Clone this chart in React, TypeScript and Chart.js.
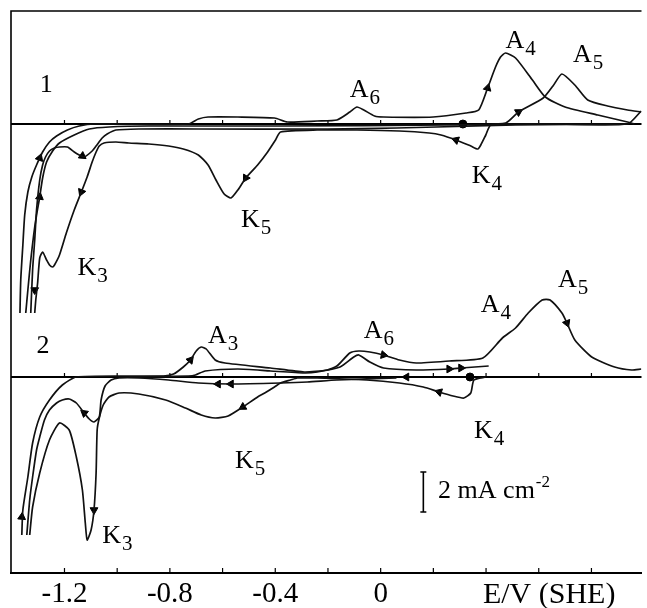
import React, { useEffect, useRef } from 'react';
import { Chart, registerables } from 'chart.js';

Chart.register(...registerables);

// ---- Axis ----
const tickValues = [-1.2, -1.0, -0.8, -0.6, -0.4, -0.2, 0, 0.2, 0.4, 0.6, 0.8];
const tickLabels = ['-1.2', '', '-0.8', '', '-0.4', '', '0', '', '', '', ''];
const axisTitle = 'E/V (SHE)';
const P1_OFFSET = 12.65; // vertical offset of curve 1 (mA cm^-2 units)

// ---- Curve 1 (upper panel): E in V (SHE), i in mA cm^-2 ----
const p1CathAE = [0.989, 0.937, 0.662, 0.512, 0.418, 0.399, 0.380, 0.369, 0.342, 0.286, 0.229, 0.184, 0.071, -0.090, -0.241, -0.380, -0.399, -0.429, -0.467, -0.512, -0.542, -0.568, -0.594, -0.625, -0.655, -0.692, -0.749, -0.805, -0.880, -0.956, -1.005, -1.050, -1.068, -1.080, -1.095, -1.114, -1.136, -1.163, -1.193, -1.219, -1.238, -1.245, -1.257, -1.268, -1.283, -1.294, -1.302, -1.309, -1.313];
const p1CathAI = [0.65, 0, 0, 0, -0.05, -0.55, -1.05, -1.25, -1.1, -0.8, -0.55, -0.45, -0.35, -0.3, -0.3, -0.4, -0.8, -1.4, -2.05, -2.7, -3.3, -3.7, -3.5, -2.8, -2.05, -1.55, -1.25, -1.1, -1.0, -0.95, -0.9, -0.95, -1.1, -1.4, -1.9, -2.65, -3.4, -4.3, -5.45, -6.55, -7.05, -7.15, -7.05, -6.8, -6.4, -6.7, -7.95, -8.8, -9.45];

const p1CathBE = [0.937, 0.512, 0.211, 0.060, -0.203, -0.692, -0.918, -1.005, -1.038, -1.057, -1.080, -1.095, -1.125, -1.144, -1.163, -1.189, -1.219, -1.238, -1.257, -1.272, -1.283, -1.294, -1.306, -1.313, -1.321, -1.328];
const p1CathBI = [0, -0.05, -0.15, -0.2, -0.25, -0.25, -0.25, -0.3, -0.5, -0.7, -1.1, -1.35, -1.65, -1.55, -1.4, -1.15, -1.15, -1.2, -1.35, -1.65, -2.05, -2.8, -4.3, -5.8, -7.3, -9.45];

const p1AnodAE = [-1.369, -1.366, -1.358, -1.351, -1.339, -1.324, -1.306, -1.283, -1.257, -1.230, -1.189, -1.144, -1.087, -0.730, -0.692, -0.655, -0.542, -0.403, -0.354, -0.241, -0.166, -0.117, -0.090, -0.064, -0.023, 0.011, 0.199, 0.324, 0.372, 0.406, 0.436, 0.455, 0.474, 0.512, 0.576, 0.625, 0.700, 0.824, 0.937, 0.963];
const p1AnodAI = [-9.45, -7.8, -6.05, -4.55, -3.4, -2.65, -2.05, -1.4, -0.9, -0.6, -0.3, -0.1, 0, 0, 0.25, 0.35, 0.35, 0.3, 0.1, 0.15, 0.2, 0.6, 0.85, 0.7, 0.4, 0.35, 0.35, 0.55, 0.7, 1.8, 2.85, 3.35, 3.55, 3.3, 2.2, 1.35, 0.85, 0.45, 0.1, 0];

const p1AnodBE = [-1.347, -1.339, -1.328, -1.317, -1.306, -1.294, -1.283, -1.268, -1.245, -1.219, -1.163, -1.106, -1.031, -0.880, -0.380, 0.248, 0.474, 0.523, 0.617, 0.654, 0.688, 0.737, 0.786, 0.861, 0.937, 0.989];
const p1AnodBI = [-9.45, -8.3, -6.8, -5.55, -4.55, -3.65, -2.7, -1.9, -1.35, -0.95, -0.55, -0.25, -0.15, -0.1, -0.1, -0.05, 0.05, 0.6, 1.3, 1.9, 2.5, 1.95, 1.2, 0.9, 0.7, 0.6];

// ---- Curve 2 (lower panel) ----
const p2Cath1E = [0.399, 0.354, 0.342, 0.316, 0.275, 0.222, 0.162, 0.071, -0.053, -0.241, -0.316, -0.342, -0.380, -0.403, -0.440, -0.467, -0.523, -0.579, -0.628, -0.681, -0.741, -0.816, -0.918, -0.993, -1.031, -1.053, -1.068, -1.076, -1.080, -1.088, -1.099, -1.114, -1.121, -1.132, -1.155, -1.182, -1.219, -1.257, -1.294, -1.321, -1.332];
const p2Cath1I = [0, -0.15, -0.8, -1.05, -0.95, -0.75, -0.5, -0.3, -0.15, -0.05, -0.05, -0.15, -0.3, -0.5, -0.8, -1.0, -1.5, -1.95, -2.05, -1.9, -1.55, -1.15, -0.85, -0.8, -1.0, -1.4, -2.05, -2.65, -4.8, -6.65, -7.65, -8.15, -7.3, -5.65, -4.0, -2.65, -2.3, -3.15, -4.8, -6.5, -7.9];

const p2Cath2E = [0.060, -0.166, -0.278, -0.380, -0.568, -0.692, -0.805, -0.918, -0.993, -1.023, -1.046, -1.061, -1.068, -1.088, -1.106, -1.125, -1.155, -1.182, -1.208, -1.230, -1.257, -1.276, -1.294, -1.306, -1.321, -1.332, -1.343];
const p2Cath2I = [-0.05, -0.15, -0.25, -0.3, -0.35, -0.3, -0.15, -0.05, -0.05, -0.15, -0.45, -1.15, -2.0, -2.25, -2.1, -1.8, -1.3, -1.1, -1.15, -1.3, -1.65, -2.15, -3.0, -3.65, -5.0, -6.15, -7.9];

const p2Anod1E = [-1.362, -1.358, -1.339, -1.321, -1.294, -1.257, -1.208, -1.155, -0.956, -0.824, -0.786, -0.749, -0.722, -0.700, -0.681, -0.662, -0.628, -0.591, -0.418, -0.290, -0.203, -0.166, -0.117, -0.083, -0.041, 0.011, 0.071, 0.135, 0.260, 0.388, 0.462, 0.512, 0.560, 0.613, 0.643, 0.688, 0.707, 0.737, 0.801, 0.888, 0.952, 0.989];
const p2Anod1I = [-7.9, -6.65, -5.0, -3.3, -2.0, -1.15, -0.4, 0, 0.05, 0.05, 0.15, 0.5, 0.85, 1.3, 1.5, 1.4, 0.85, 0.7, 0.45, 0.25, 0.35, 0.55, 1.2, 1.3, 1.25, 1.1, 0.85, 0.7, 0.8, 0.95, 1.95, 2.45, 3.2, 3.85, 3.85, 3.2, 2.7, 1.85, 1.0, 0.5, 0.35, 0.4];

const p2Anod2E = [-0.956, -0.730, -0.703, -0.666, -0.542, -0.418, -0.290, -0.241, -0.154, -0.102, -0.083, -0.041, 0.011, 0.135, 0.260, 0.305, 0.410];
const p2Anod2I = [0, 0.05, 0.1, 0.3, 0.4, 0.3, 0.2, 0.25, 0.5, 1.0, 1.1, 0.75, 0.45, 0.35, 0.4, 0.45, 0.55];

// ---- Sweep-direction arrows: E, i, panel, heading (deg) ----
const arrowE = [0.406, 0.523, 0.286, -0.512, -1.136, -1.313, -1.294, -1.294, -1.132, -1.362, -1.125, -1.088, -0.523, -0.617, -0.568, -0.722, 0.011, 0.707, 0.222, 0.260, 0.305, 0.098];
const arrowI = [1.8, 0.6, -0.8, -2.7, -3.4, -8.3, -3.65, -1.7, -1.6, -7.0, -1.8, -6.65, -1.5, -0.35, -0.35, 0.85, 1.1, 2.7, -0.75, 0.4, 0.45, 0];
const arrowPanel = [1, 1, 1, 1, 1, 1, 1, 1, 1, 2, 2, 2, 2, 2, 2, 2, 2, 2, 2, 2, 2, 2];
const arrowHeading = [15, 59, 289, 211, 202, 180, 8, 20, 245, 5, 309, 180, 239, 270, 270, 40, 101, 158, 287, 90, 90, 270];

// ---- Starting-potential dots ----
const dotE = [0.312, 0.339];
const dotI = [0, 0];
const dotPanel = [1, 2];

// ---- Peak labels: letter, subscript, E, i, panel ----
const labelMain = ['1', 'A', 'A', 'A', 'K', 'K', 'K', '2', 'A', 'A', 'A', 'A', 'K', 'K', 'K'];
const labelSub = ['', '6', '4', '5', '4', '5', '3', '', '3', '6', '4', '5', '4', '5', '3'];
const labelE = [-1.294, -0.117, 0.474, 0.730, 0.346, -0.530, -1.151, -1.306, -0.655, -0.064, 0.380, 0.673, 0.354, -0.553, -1.057];
const labelI = [1.6, 1.35, 3.8, 3.1, -2.95, -5.15, -7.55, 1.2, 1.7, 1.95, 3.25, 4.5, -3.05, -4.55, -8.3];
const labelPanel = [1, 1, 1, 1, 1, 1, 1, 2, 2, 2, 2, 2, 2, 2, 2];

// ---- Scale bar (2 mA cm^-2) ----
const scaleBarE = 0.162;
const scaleBarI = [-4.75, -6.75];
const scaleBarText = '2 mA cm';
const scaleBarSup = '-2';
const scaleBarTextE = 0.218;
const scaleBarTextI = -6.05;

const off = (panel: number) => (panel === 1 ? P1_OFFSET : 0);
const pts = (E: number[], I: number[], panel: number) =>
  E.slice(0, Math.min(E.length, I.length)).map((e, k) => ({ x: e, y: I[k] + off(panel) }));

const SERIF = 'Liberation Serif';
Chart.defaults.font.family = SERIF;

const overlay = {
  id: 'overlay',
  beforeDatasetsDraw(chart: any) {
    const { ctx, chartArea: a, scales } = chart;
    const xs = scales.x;
    const ys = scales.y;
    ctx.save();
    ctx.strokeStyle = '#000';
    ctx.lineWidth = 1.6;
    // left & top frame
    ctx.beginPath();
    ctx.moveTo(a.left, a.bottom);
    ctx.lineTo(a.left, a.top);
    ctx.lineTo(a.right, a.top);
    ctx.stroke();
    // zero-current lines of both curves
    for (const o of [P1_OFFSET, 0]) {
      const py = ys.getPixelForValue(o);
      ctx.lineWidth = 1.8;
      ctx.beginPath();
      ctx.moveTo(a.left, py);
      ctx.lineTo(a.right, py);
      ctx.stroke();
      ctx.lineWidth = 1.2;
      for (const t of tickValues) {
        const px = xs.getPixelForValue(t);
        ctx.beginPath();
        ctx.moveTo(px, py);
        ctx.lineTo(px, py - 4);
        ctx.stroke();
      }
    }
    // inward ticks on the E axis
    ctx.lineWidth = 1.2;
    for (const t of tickValues) {
      const px = xs.getPixelForValue(t);
      ctx.beginPath();
      ctx.moveTo(px, a.bottom);
      ctx.lineTo(px, a.bottom - 5);
      ctx.stroke();
    }
    ctx.restore();
  },
  afterDatasetsDraw(chart: any) {
    const { ctx, chartArea: a, scales } = chart;
    const xs = scales.x;
    const ys = scales.y;
    ctx.save();
    ctx.fillStyle = '#000';
    ctx.strokeStyle = '#000';
    ctx.textBaseline = 'alphabetic';
    ctx.textAlign = 'left';
    for (let k = 0; k < labelMain.length; k++) {
      const px = xs.getPixelForValue(labelE[k]);
      const py = ys.getPixelForValue(labelI[k] + off(labelPanel[k]));
      ctx.font = `26px "${SERIF}"`;
      ctx.fillText(labelMain[k], px, py);
      if (labelSub[k]) {
        const w = ctx.measureText(labelMain[k]).width;
        ctx.font = `21px "${SERIF}"`;
        ctx.fillText(labelSub[k], px + w + 1, py + 7);
      }
    }
    // scale bar
    const bx = xs.getPixelForValue(scaleBarE);
    const by1 = ys.getPixelForValue(scaleBarI[0]);
    const by2 = ys.getPixelForValue(scaleBarI[1]);
    ctx.lineWidth = 1.6;
    ctx.beginPath();
    ctx.moveTo(bx, by1);
    ctx.lineTo(bx, by2);
    ctx.moveTo(bx - 3, by1);
    ctx.lineTo(bx + 3, by1);
    ctx.moveTo(bx - 3, by2);
    ctx.lineTo(bx + 3, by2);
    ctx.stroke();
    const tx = xs.getPixelForValue(scaleBarTextE);
    const ty = ys.getPixelForValue(scaleBarTextI);
    ctx.font = `26px "${SERIF}"`;
    ctx.fillText(scaleBarText, tx, ty);
    const tw = ctx.measureText(scaleBarText).width;
    ctx.font = `17px "${SERIF}"`;
    ctx.fillText(scaleBarSup, tx + tw + 1, ty - 11);
    // axis title
    ctx.font = `30px "${SERIF}"`;
    ctx.fillText(axisTitle, xs.getPixelForValue(0.388), a.bottom + 30);
    ctx.restore();
  },
};

export default function App() {
  const ref = useRef<HTMLCanvasElement | null>(null);
  useEffect(() => {
    document.body.style.margin = '0';
    if (!ref.current) return;
    const line = (data: any[]) => ({
      data,
      showLine: true,
      borderColor: '#111',
      borderWidth: 1.7,
      pointRadius: 0,
      tension: 0.2,
      fill: false,
    });
    const chart = new Chart(ref.current, {
      type: 'scatter',
      data: {
        datasets: [
          line(pts(p1CathAE, p1CathAI, 1)),
          line(pts(p1CathBE, p1CathBI, 1)),
          line(pts(p1AnodAE, p1AnodAI, 1)),
          line(pts(p1AnodBE, p1AnodBI, 1)),
          line(pts(p2Cath1E, p2Cath1I, 2)),
          line(pts(p2Cath2E, p2Cath2I, 2)),
          line(pts(p2Anod1E, p2Anod1I, 2)),
          line(pts(p2Anod2E, p2Anod2I, 2)),
          {
            data: arrowE.map((e, k) => ({ x: e, y: arrowI[k] + off(arrowPanel[k]) })),
            showLine: false,
            pointStyle: 'triangle',
            pointRadius: 4.5,
            rotation: arrowHeading,
            backgroundColor: '#000',
            borderColor: '#000',
            borderWidth: 1,
          } as any,
          {
            data: dotE.map((e, k) => ({ x: e, y: dotI[k] + off(dotPanel[k]) })),
            showLine: false,
            pointStyle: 'circle',
            pointRadius: 4,
            backgroundColor: '#000',
            borderColor: '#000',
          } as any,
        ],
      },
      options: {
        animation: false,
        responsive: false,
        events: [],
        layout: { padding: { left: 11, top: 11, right: 0, bottom: 0 } },
        plugins: { legend: { display: false }, tooltip: { enabled: false } },
        scales: {
          x: {
            type: 'linear',
            min: -1.403,
            max: 0.99,
            afterBuildTicks: (axis: any) => {
              axis.ticks = tickValues.map((v) => ({ value: v }));
            },
            afterFit: (axis: any) => {
              axis.height = 35;
            },
            grid: { display: false, drawTicks: false },
            border: { display: true, color: '#000', width: 2 },
            ticks: {
              color: '#000',
              autoSkip: false,
              maxRotation: 0,
              padding: 4,
              font: { family: SERIF, size: 29 },
              callback: (_v: any, index: number) => tickLabels[index] ?? '',
            },
          },
          y: {
            type: 'linear',
            display: false,
            min: -9.8,
            max: 18.3,
          },
        },
      } as any,
      plugins: [overlay],
    });
    return () => chart.destroy();
  }, []);
  return <canvas ref={ref} width={647} height={608} style={{ display: 'block' }} />;
}
